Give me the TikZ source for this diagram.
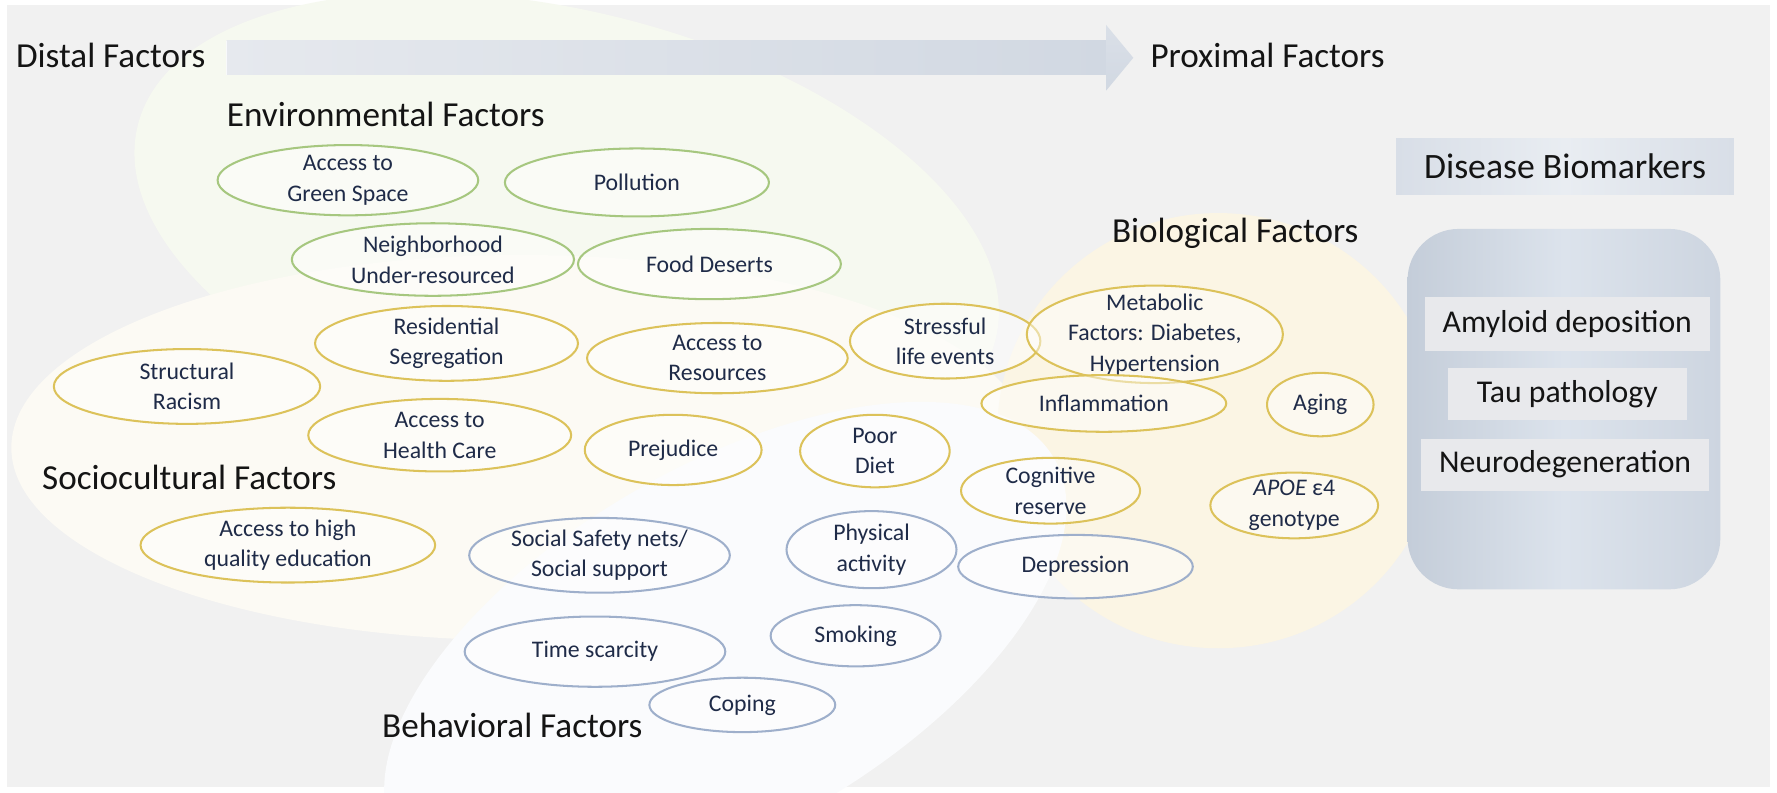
\documentclass[tikz,border=0pt]{standalone}
\usepackage{fontspec}
\setmainfont{Carlito}
\usetikzlibrary{shapes.geometric}
\definecolor{bg}{HTML}{F1F1F1}
\definecolor{envb}{HTML}{F6F9F0}
\definecolor{socb}{HTML}{FCFAF4}
\definecolor{biob}{HTML}{FBF5E4}
\definecolor{behb}{HTML}{FAFBFD}
\definecolor{envc}{HTML}{A6C77F}
\definecolor{socc}{HTML}{DCC25A}
\definecolor{behc}{HTML}{9EAFCB}
\definecolor{txt}{HTML}{1F2B48}
\definecolor{head}{HTML}{141414}
\definecolor{arrl}{HTML}{E6E9EE}
\definecolor{arrr}{HTML}{D1D8E2}
\definecolor{boxg}{HTML}{E8E9EC}
\definecolor{dbmside}{HTML}{D8DEE7}
\definecolor{dbmmid}{HTML}{E9EDF2}
\definecolor{bigl}{HTML}{C4CDD9}
\definecolor{bigr}{HTML}{CDD5E0}
\definecolor{bigm}{HTML}{DCE3EC}
\begin{document}
\begin{tikzpicture}[x=1pt,y=-1pt,
  fac/.style={ellipse, draw, line width=1.8pt, fill=white, fill opacity=0.45, text opacity=1,
    inner sep=-3pt, align=center, font=\fontsize{21}{27}\selectfont, text=txt},
  env/.style={fac, draw=envc},
  soc/.style={fac, draw=socc},
  beh/.style={fac, draw=behc},
  heading/.style={anchor=base west, inner sep=0pt, font=\fontsize{31}{37}\selectfont, text=head},
  bmbox/.style={inner sep=0pt, fill=boxg, font=\fontsize{28}{34}\selectfont, text=head},
  sz/.style 2 args={minimum width=#1, minimum height=#2}
]
\useasboundingbox (0,0) rectangle (1568,699);
\fill[white] (0,0) rectangle (1568,699);
\fill[bg] (6,4) rectangle (1562,694);

% background blobs
\fill[envb, rotate around={-14:(500,205)}] (500,205) ellipse [x radius=390, y radius=195];
\fill[socb] (460,395) ellipse [x radius=450, y radius=170];
\fill[biob] (1075,380) ellipse [x radius=195, y radius=192];
\fill[behb, rotate around={30:(640,572)}] (640,572) ellipse [x radius=335, y radius=160];

% arrow
\node[heading] (distal) at (14,60) {Distal Factors};
\node[heading] (proximal) at (1015,60) {Proximal Factors};
\coordinate (arrS) at (200,51);
\coordinate (arrB) at (976,51);
\coordinate (arrE) at (1000,51);
\shade[left color=arrl, right color=arrr] ([yshift=-15]arrS) rectangle ([yshift=15]arrB);
\shade[top color=arrr!80!white, bottom color=arrr] ([yshift=-29]arrB) -- (arrE) -- ([yshift=29]arrB) -- cycle;
\draw[white!85!arrr, line width=0.8pt] ([yshift=-15]arrS) -- ([yshift=15]arrS);

% headings
\node[heading] (envh) at (200,112) {Environmental Factors};
\node[heading] (bioh) at (981,214) {Biological Factors};
\node[heading] (soch) at (37,432) {Sociocultural Factors};
\node[heading] (behh) at (337,651) {Behavioral Factors};

% environmental
\node[env, sz={230}{62}] (green) at (307,159) {Access to\\Green Space};
\node[env, sz={233}{60}] (poll) at (562,161) {Pollution};
\node[env, sz={249}{64}] (neigh) at (382,229) {Neighborhood\\Under-resourced};
\node[env, sz={232}{62}] (food) at (626,233) {Food Deserts};

% sociocultural
\node[soc, sz={232}{66}] (resid) at (394,303) {Residential\\Segregation};
\node[soc, sz={230}{62}] (resour) at (633,316) {Access to\\Resources};
\node[soc, sz={235}{66}] (racism) at (165,341) {Structural\\Racism};
\node[soc, sz={232}{64}] (health) at (388,384) {Access to\\Health Care};
\node[soc, sz={156}{62}] (prej) at (594,397) {Prejudice};
\node[soc, sz={260}{66}] (edu) at (254,481) {Access to high\\quality education};
\node[soc, sz={168}{66}] (stress) at (834,301) {Stressful\\life events};
\node[soc, sz={132}{64}] (diet) at (772,398) {Poor\\Diet};

% biological
\node[soc, sz={226}{86}, inner ysep=-10pt] (metab) at (1019,295) {Metabolic\\Factors: Diabetes,\\Hypertension};
\node[soc, sz={216}{50}] (infl) at (974,356) {Inflammation};
\node[soc, sz={94}{56}] (aging) at (1165,357) {Aging};
\node[soc, sz={158}{58}] (cog) at (927,433) {Cognitive\\reserve};
\node[soc, sz={148}{58}] (apoe) at (1142,446) {\textit{APOE} ε4\\genotype};

% behavioral
\node[beh, sz={230}{66}] (safety) at (529,490) {Social Safety nets/\\Social support};
\node[beh, sz={150}{68}] (phys) at (769,485) {Physical\\activity};
\node[beh, sz={207}{56}] (dep) at (949,500) {Depression};
\node[beh, sz={230}{62}] (time) at (525,575) {Time scarcity};
\node[beh, sz={150}{54}] (smok) at (755,561) {Smoking};
\node[beh, sz={164}{48}] (coping) at (655,622) {Coping};

% biomarkers
\node[inner sep=0pt, sz={298}{50}, shading=axis, left color=dbmside, right color=dbmside, middle color=dbmmid, font=\fontsize{31.5}{37}\selectfont, text=head] (dbm) at (1381,147) {Disease Biomarkers};
\node[rounded corners=45pt, inner sep=0pt, sz={276}{318}, shading=axis, left color=bigl, right color=bigr, middle color=bigm] (bmbig) at (1380,361) {};
\node[bmbox, sz={252}{47}] (amy) at (1383,286) {Amyloid deposition};
\node[bmbox, sz={211}{46}] (tau) at (1383,348) {Tau pathology};
\node[bmbox, sz={254}{46}] (neuro) at (1381,410) {Neurodegeneration};
\end{tikzpicture}
\end{document}
